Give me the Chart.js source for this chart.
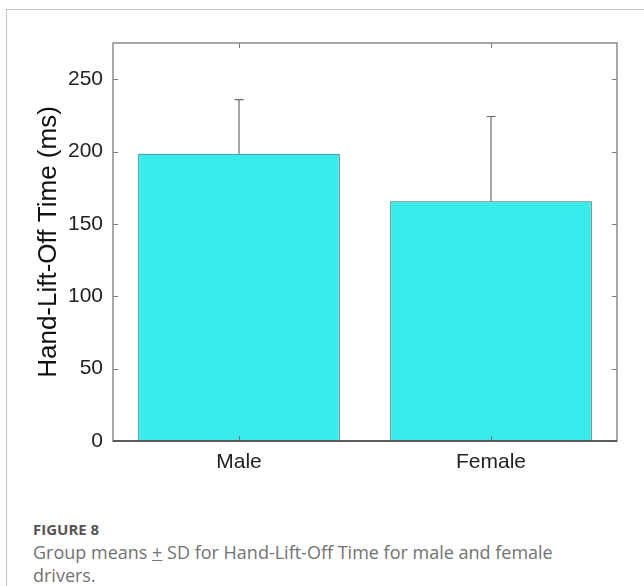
<!DOCTYPE html>
<html lang="en">
<head>
	<meta charset="utf-8">
	<script src="https://cdn.jsdelivr.net/npm/chart.js@4"></script>
	<title>Hand-Lift-Off Time</title>
<style>
body { margin: 0; background: #fff; }
.frame {
	position: absolute; left: 6px; top: 9px; width: 650px; height: 600px;
	border-left: 1px solid #c4c4c4; border-top: 1px solid #c4c4c4;
}
.wrap { position: absolute; left: 0; top: 0; width: 644px; height: 486px; }
.cap {
	position: absolute; left: 33px; top: 517px; width: 610px;
	font-family: "Open Sans", sans-serif; font-size: 18px; line-height: 23px; color: #727272;
}
.cap b { color: #555; font-weight: 700; font-size: 15px; }
</style>
</head>
<body>
	<div class="frame"></div>
	<div class="wrap"><canvas id="myChart"></canvas></div>
	<div class="cap"><b>FIGURE 8</b><br>Group means <u>+</u> SD for Hand-Lift-Off Time for male and female<br>drivers.</div>
<script>
const groups = ['Male', 'Female'];
const means = [198.4, 165.7];
const sds = [37.5, 58.5];
const yTicks = [0, 50, 100, 150, 200, 250];

// box, inside ticks and error bars like matlab
const boxPlugin = {
	id: 'box',
	afterDatasetsDraw(chart) {
		const c = chart.ctx, a = chart.chartArea;
		const xs = chart.scales.x, ys = chart.scales.y;
		c.save();
		// error bars
		c.strokeStyle = '#6a6a6a';
		c.lineWidth = 1.2;
		means.forEach((m, i) => {
			const x = xs.getPixelForValue(i);
			const y0 = ys.getPixelForValue(m), y1 = ys.getPixelForValue(m + sds[i]);
			c.beginPath();
			c.moveTo(x, y0); c.lineTo(x, y1);
			c.moveTo(x - 4.5, y1); c.lineTo(x + 4.5, y1);
			c.stroke();
		});
		// ticks
		c.strokeStyle = '#777';
		c.lineWidth = 1;
		c.beginPath();
		ys.ticks.forEach(t => {
			const y = Math.round(ys.getPixelForValue(t.value)) + 0.5;
			c.moveTo(a.left, y); c.lineTo(a.left + 5, y);
			c.moveTo(a.right, y); c.lineTo(a.right - 5, y);
		});
		groups.forEach((g, i) => {
			const x = Math.round(xs.getPixelForValue(i)) + 0.5;
			c.moveTo(x, a.bottom); c.lineTo(x, a.bottom - 5);
			c.moveTo(x, a.top); c.lineTo(x, a.top + 5);
		});
		c.stroke();
		// box
		c.strokeStyle = '#8a8a8a';
		c.lineWidth = 1.5;
		c.strokeRect(a.left, a.top, a.right - a.left, a.bottom - a.top);
		c.strokeStyle = '#444';
		c.beginPath();
		c.moveTo(a.left, a.bottom); c.lineTo(a.right, a.bottom);
		c.stroke();
		c.restore();
	}
};

new Chart(document.getElementById('myChart'), {
	type: 'bar',
	data: {
		labels: groups,
		datasets: [{
			data: means,
			backgroundColor: '#3aebeb',
			borderColor: '#1e6b6b',
			borderWidth: 1,
			barPercentage: 0.8,
			categoryPercentage: 1.0
		}]
	},
	options: {
		responsive: true,
		maintainAspectRatio: false,
		animation: false,
		layout: { padding: { left: 0, top: 43, right: 27, bottom: 0 } },
		plugins: { legend: { display: false }, tooltip: { enabled: false } },
		scales: {
			x: {
				grid: { display: false, drawTicks: false },
				border: { display: false },
				ticks: { color: '#222', padding: 9, font: { family: "'Liberation Sans', Arial", size: 21 } },
				afterFit: s => { s.height = 45; }
			},
			y: {
				min: 0, max: 275,
				afterBuildTicks: s => { s.ticks = yTicks.map(v => ({ value: v })); },
				grid: { display: false, drawTicks: false },
				border: { display: false },
				ticks: { color: '#222', padding: 10, font: { family: "'Liberation Sans', Arial", size: 21 } },
				title: {
					display: true, text: 'Hand-Lift-Off Time (ms)', color: '#111',
					padding: { top: 33, bottom: 0 },
					font: { family: "'Liberation Sans', Arial", size: 26 }
				},
				afterFit: s => { s.width = 113; }
			}
		}
	},
	plugins: [boxPlugin]
});
</script>
</body>
</html>
